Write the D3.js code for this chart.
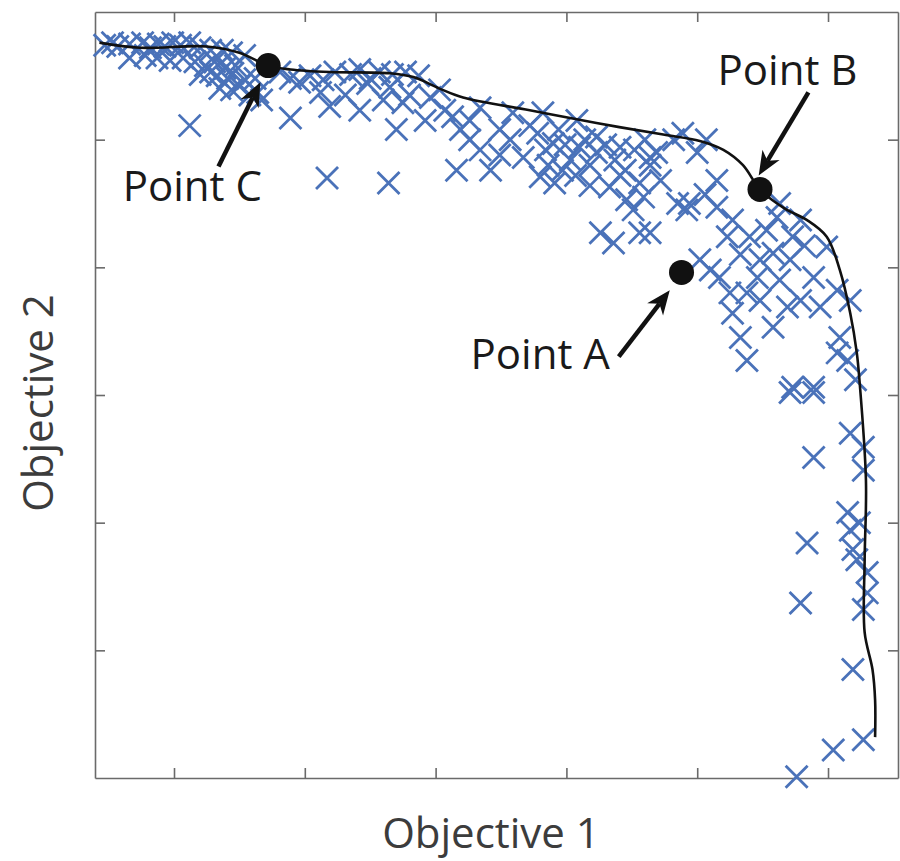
<!DOCTYPE html>
<html>
<head>
<meta charset="utf-8">
<script src="https://cdn.jsdelivr.net/npm/d3@7"></script>
<style>
  html, body { margin: 0; padding: 0; background: #fff; }
  svg { display: block; }
  text { font-family: "Open Sans", "Noto Sans", sans-serif; }
</style>
</head>
<body>
<svg id="chart" width="900" height="861"></svg>
<script>
// ---------- DATA ----------
const xTicks = [1, 2, 3, 4, 5, 6];
const yTicks = [1, 2, 3, 4, 5];
const xLabel = "Objective 1";
const yLabel = "Objective 2";

// Candidate solutions (Objective 1, Objective 2)
const obj1 = [
  0.47,0.53,0.57,0.66,0.76,0.82,0.88,0.93,0.99,1.05,1.12,1.20,1.28,1.37,1.44,1.54,
  0.66,0.78,0.87,0.97,1.07,1.16,1.24,1.31,1.39,1.47,1.20,1.28,1.33,1.41,1.45,1.54,1.62,
  1.35,1.44,1.50,1.58,1.64,1.67,1.12,
  1.81,1.89,1.96,2.04,2.14,2.23,2.35,2.42,2.50,2.57,2.67,2.77,2.87,
  1.89,2.19,2.42,2.48,2.60,2.31,2.12,2.17,2.64,
  2.65,2.75,2.70,2.96,3.03,3.13,3.19,3.16,3.26,3.34,3.42,3.59,3.67,3.78,3.82,3.80,3.90,3.97,
  4.08,4.10,4.23,4.23,4.33,4.41,4.46,4.51,4.26,4.36,4.56,4.56,4.69,4.82,4.85,
  3.49,3.57,3.72,3.84,3.86,3.94,3.99,4.03,4.14,4.18,4.30,4.37,4.45,4.52,4.60,4.64,4.72,
  3.26,3.34,3.07,2.92,2.80,3.91,4.07,4.18,4.41,3.49,
  4.89,5.07,5.00,4.64,4.59,4.64,4.94,4.92,5.15,5.15,5.27,5.23,5.40,5.53,5.63,5.61,5.58,5.73,
  5.02,5.17,5.25,5.38,5.27,5.46,5.63,5.69,5.58,5.89,5.94,6.07,6.09,6.15,6.07,5.33,5.38,
  5.73,5.89,5.99,5.79,5.06,5.33,5.48,5.71,5.82,5.48,5.79,5.10,
  5.71,5.89,6.17,6.27,6.27,5.89,6.15,6.17,6.19,6.30,6.30,6.27,5.84,5.79,6.19,6.04,6.27,5.76,
  6.24,6.22,6.21,6.17
];
const obj2 = [
  5.74,5.76,5.73,5.75,5.76,5.72,5.75,5.73,5.76,5.74,5.76,5.72,5.70,5.70,5.68,5.66,
  5.64,5.66,5.64,5.62,5.64,5.61,5.58,5.61,5.56,5.58,5.51,5.53,5.50,5.48,5.52,5.47,5.48,
  5.40,5.39,5.42,5.35,5.37,5.31,5.11,
  5.53,5.48,5.45,5.50,5.47,5.53,5.51,5.55,5.48,5.53,5.51,5.53,5.50,
  5.17,5.26,5.23,5.44,5.31,5.35,5.37,4.70,4.66,
  5.41,5.29,5.08,5.33,5.39,5.18,5.08,4.76,5.15,5.25,4.76,5.21,4.86,5.05,5.21,4.71,4.97,4.76,
  5.15,4.94,5.02,4.90,4.63,4.94,4.53,4.45,4.27,4.19,4.27,4.66,4.90,5.00,4.50,
  5.08,5.00,5.11,4.92,4.80,5.08,4.96,4.84,5.00,4.80,4.96,4.84,4.76,4.92,5.00,4.80,4.68,
  5.00,4.92,5.23,5.15,5.35,4.66,4.72,4.64,4.72,4.88,
  5.05,5.00,4.90,4.86,4.55,4.27,4.50,4.45,4.68,4.47,4.37,4.24,4.24,4.29,4.50,4.39,4.11,4.24,
  4.06,3.92,3.80,3.80,3.64,3.92,3.90,3.69,3.53,3.92,3.69,3.82,3.45,3.27,3.33,3.45,3.27,
  3.06,3.06,4.16,4.37,4.57,4.10,4.06,4.06,4.17,3.74,3.74,3.98,
  3.02,3.02,2.70,2.59,2.41,2.51,2.08,1.94,1.79,1.61,1.45,1.32,1.84,1.37,0.85,0.22,0.30,0.01,
  2.00,1.71,3.12,3.74
];

// Pareto front
const frontX = [0.43,0.74,1.25,1.50,1.72,1.89,2.19,2.65,2.83,3.03,3.21,3.72,4.23,4.74,5.02,5.20,5.35,5.48,5.67,5.84,5.99,6.09,6.17,6.22,6.24,6.29,6.28,6.28,6.34,6.36,6.36];
const frontY = [5.76,5.72,5.73,5.68,5.58,5.55,5.53,5.52,5.49,5.40,5.33,5.23,5.13,5.04,4.99,4.92,4.80,4.61,4.46,4.37,4.24,3.98,3.64,3.33,3.12,2.33,1.71,1.14,0.85,0.61,0.32];

// Highlighted points and their labels
const pointNames = ["Point C", "Point B", "Point A"];
const pointX = [1.72, 5.48, 4.88];
const pointY = [5.58, 4.61, 3.96];
const arrowFromX = [1.34, 5.85, 4.40];
const arrowFromY = [4.79, 5.37, 3.30];
const arrowToX = [1.66, 5.47, 4.79];
const arrowToY = [5.45, 4.72, 3.82];
const labelX = [1.14, 5.69, 3.80];
const labelY = [4.52, 5.43, 3.20];

// ---------- CHART ----------
const svg = d3.select("#chart");
const L = 95, R = 898, T = 12, B = 778;
const x = d3.scaleLinear().domain([0.396, 6.535]).range([L, R]);
const y = d3.scaleLinear().domain([0, 6]).range([B, T]);

const axisColor = "#6a6a6a";
function styleAxis(g) {
  g.selectAll("path.domain").attr("stroke", axisColor).attr("stroke-width", 1.6);
  g.selectAll(".tick line").attr("stroke", axisColor).attr("stroke-width", 1.6);
  g.selectAll(".tick text").remove();
}
svg.append("g").attr("transform", `translate(0,${B})`)
  .call(d3.axisBottom(x).tickValues(xTicks).tickSize(-10).tickSizeOuter(0).tickFormat(""))
  .call(styleAxis);
svg.append("g").attr("transform", `translate(0,${T})`)
  .call(d3.axisTop(x).tickValues(xTicks).tickSize(-10).tickSizeOuter(0).tickFormat(""))
  .call(styleAxis);
svg.append("g").attr("transform", `translate(${L},0)`)
  .call(d3.axisLeft(y).tickValues(yTicks).tickSize(-10).tickSizeOuter(0).tickFormat(""))
  .call(styleAxis);
svg.append("g").attr("transform", `translate(${R},0)`)
  .call(d3.axisRight(y).tickValues(yTicks).tickSize(-10).tickSizeOuter(0).tickFormat(""))
  .call(styleAxis);

// scatter crosses
const pts = obj1.map((v, i) => [v, obj2[i]]);
const s = 11;
svg.append("g").selectAll("path.cross").data(pts).join("path")
  .attr("class", "cross")
  .attr("d", d => {
    const cx = x(d[0]), cy = y(d[1]);
    return `M${cx - s},${cy - s}L${cx + s},${cy + s}M${cx - s},${cy + s}L${cx + s},${cy - s}`;
  })
  .attr("stroke", "#4a72b9").attr("stroke-width", 2.8).attr("fill", "none");

// front line
const front = frontX.map((v, i) => [v, frontY[i]]);
svg.append("path").datum(front)
  .attr("d", d3.line().x(d => x(d[0])).y(d => y(d[1])).curve(d3.curveCatmullRom.alpha(0.5)))
  .attr("fill", "none").attr("stroke", "#111").attr("stroke-width", 2.6);

// highlighted points
svg.append("g").selectAll("circle").data(pointX).join("circle")
  .attr("cx", (d) => x(d)).attr("cy", (d, i) => y(pointY[i])).attr("r", 12.5)
  .attr("fill", "#111");

// arrows
pointNames.forEach((n, i) => {
  const x0 = x(arrowFromX[i]), y0 = y(arrowFromY[i]);
  const x1 = x(arrowToX[i]), y1 = y(arrowToY[i]);
  const dx = x1 - x0, dy = y1 - y0, len = Math.hypot(dx, dy);
  const ux = dx / len, uy = dy / len, px = -uy, py = ux;
  const hl = 24, hw = 10, notch = 7;
  const bx = x1 - ux * hl, by = y1 - uy * hl;
  svg.append("line")
    .attr("x1", x0).attr("y1", y0)
    .attr("x2", x1 - ux * (hl - notch)).attr("y2", y1 - uy * (hl - notch))
    .attr("stroke", "#111").attr("stroke-width", 4.5);
  svg.append("path")
    .attr("d", `M${x1},${y1}L${bx + px * hw},${by + py * hw}L${x1 - ux * (hl - notch)},${y1 - uy * (hl - notch)}L${bx - px * hw},${by - py * hw}Z`)
    .attr("fill", "#111");
  svg.append("text")
    .attr("x", x(labelX[i])).attr("y", y(labelY[i]))
    .attr("text-anchor", "middle")
    .attr("font-size", 42).attr("fill", "#1a1a1a")
    .text(n);
});

// axis labels
svg.append("text")
  .attr("x", 491).attr("y", 848)
  .attr("text-anchor", "middle").attr("font-size", 42).attr("fill", "#3c3c3c")
  .text(xLabel);
svg.append("text")
  .attr("transform", `translate(53,${(T + B) / 2 + 8}) rotate(-90)`)
  .attr("text-anchor", "middle").attr("font-size", 42).attr("fill", "#3c3c3c")
  .text(yLabel);
</script>
</body>
</html>
